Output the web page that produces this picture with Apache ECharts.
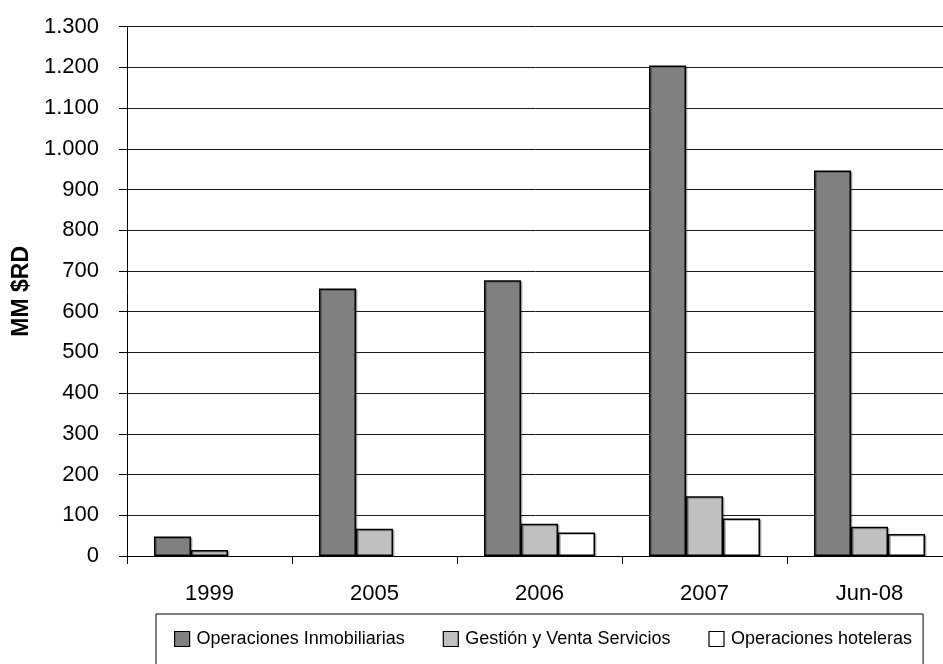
<!DOCTYPE html>
<html>
<head>
<meta charset="utf-8">
<script src="https://cdn.jsdelivr.net/npm/echarts@6/dist/echarts.min.js"></script>
<style>
  html, body { margin: 0; padding: 0; background: #ffffff; }
  #chart { width: 943px; height: 664px; }
</style>
</head>
<body>
<div id="chart"></div>
<script>
// Categories (periods) and the three business lines, in MM $RD
const categories = ['1999', '2005', '2006', '2007', 'Jun-08'];
const seriesNames = ['Operaciones Inmobiliarias', 'Gestión y Venta Servicios', 'Operaciones hoteleras'];
const inmobiliarias = [48, 657, 677, 1205, 947];
const gestionVenta = [15, 67, 79, 147, 72];
const hoteleras = [null, null, 58, 92, 54];
const yTicks = { min: 0, max: 1300, interval: 100 };

const FONT = "'Liberation Sans', Arial, sans-serif";
const fills = ['#808080', '#c0c0c0', '#ffffff'];

function barSeries(name, data, color) {
  return {
    name: name,
    type: 'bar',
    data: data,
    barWidth: 37,
    barGap: '0%',
    itemStyle: {
      color: color,
      borderColor: '#000000',
      borderWidth: 1.5,
      shadowColor: 'rgba(0,0,0,0.25)',
      shadowOffsetX: 1.5,
      shadowOffsetY: 1,
      shadowBlur: 0
    },
    emphasis: { disabled: true }
  };
}

const chart = echarts.init(document.getElementById('chart'), null, { renderer: 'canvas' });
chart.setOption({
  backgroundColor: '#ffffff',
  animation: false,
  textStyle: { fontFamily: FONT },
  grid: { left: 127, right: -9, top: 26.7, bottom: 108, containLabel: false, outerBoundsMode: 'none' },
  legend: {
    left: 156,
    top: 614,
    padding: [16, 11, 40, 18],
    itemGap: 38,
    itemWidth: 15,
    itemHeight: 15,
    borderColor: '#000000',
    borderWidth: 1,
    icon: 'rect',
    itemStyle: { borderColor: '#000000', borderWidth: 1.2, shadowBlur: 0, shadowOffsetX: 0, shadowOffsetY: 0 },
    textStyle: { fontFamily: FONT, fontSize: 18, color: '#000000', padding: [0, 0, 0, 2] },
    data: seriesNames
  },
  xAxis: {
    type: 'category',
    data: categories,
    axisLine: { lineStyle: { color: '#000000', width: 1 } },
    axisTick: { show: true, length: 8, alignWithLabel: false, lineStyle: { color: '#000000' } },
    axisLabel: { fontFamily: FONT, fontSize: 22, color: '#000000', margin: 27 }
  },
  yAxis: {
    type: 'value',
    min: yTicks.min,
    max: yTicks.max,
    interval: yTicks.interval,
    name: 'MM $RD',
    nameLocation: 'middle',
    nameGap: 93,
    nameTextStyle: { fontFamily: FONT, fontSize: 23, fontWeight: 'bold', color: '#000000' },
    axisLine: { show: true, lineStyle: { color: '#000000', width: 1 } },
    axisTick: { show: true, length: 8, lineStyle: { color: '#000000' } },
    axisLabel: {
      fontFamily: FONT, fontSize: 22, color: '#000000', margin: 28,
      formatter: function (v) { return v.toLocaleString('de-DE'); }
    },
    splitLine: { show: true, lineStyle: { color: '#1a1a1a', width: 1 } }
  },
  series: [
    barSeries(seriesNames[0], inmobiliarias, fills[0]),
    barSeries(seriesNames[1], gestionVenta, fills[1]),
    barSeries(seriesNames[2], hoteleras, fills[2])
  ]
});
</script>
</body>
</html>
